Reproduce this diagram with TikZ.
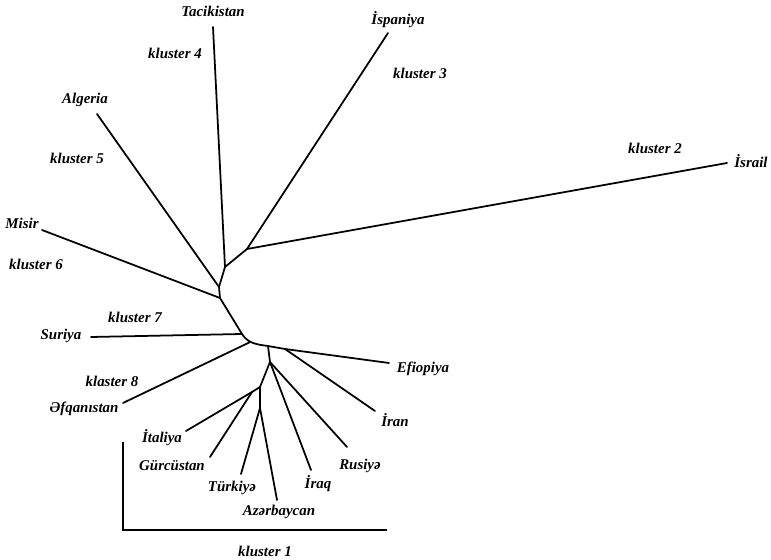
\documentclass[tikz,border=0pt]{standalone}
\usepackage{fontspec}
\setmainfont{Liberation Serif}
\usetikzlibrary{positioning}
\tikzset{
  lbl/.style={font=\fontsize{8.5}{10}\selectfont\bfseries\itshape, inner sep=0pt},
  branch/.style={line width=1pt, line cap=round}
}

\begin{document}
\begin{tikzpicture}[x=0.02cm, y=-0.02cm]
\useasboundingbox (0,0) rectangle (771,560);

% inner nodes of the tree
\coordinate (nSI) at (247,249);
\coordinate (nTI) at (225,267);
\coordinate (nA) at (219,287);
\coordinate (nM) at (220,298);
\coordinate (nS) at (242,334);
\coordinate (nF) at (268,346);
\coordinate (nI) at (285,349);
\coordinate (nG) at (270,362);
\coordinate (nH) at (260,387);
\coordinate (nK) at (252,392);
\coordinate (nT) at (260,408);

% leaf ends
\coordinate (tTac) at (213,27);
\coordinate (tIsp) at (388,33);
\coordinate (tIsr) at (727,163);
\coordinate (tAlg) at (97,114);
\coordinate (tMis) at (42,230);
\coordinate (tSur) at (91,337);
\coordinate (tAfg) at (123,403);
\coordinate (tEfi) at (389,363);
\coordinate (tIran) at (375,411);
\coordinate (tIta) at (186,431);
\coordinate (tGur) at (210,457);
\coordinate (tTur) at (241,474);
\coordinate (tAze) at (277,500);
\coordinate (tIraq) at (311,470);
\coordinate (tRus) at (347,447);

\draw[branch] (tTac) -- (nTI) -- (nA) -- (nM) -- (nS)
  to[out=-58,in=172] coordinate[pos=.4] (nE) (nF) -- (nI) -- (tEfi);
\draw[branch] (nTI) -- (nSI) -- (tIsp);
\draw[branch] (nSI) -- (tIsr);
\draw[branch] (nA) -- (tAlg);
\draw[branch] (nM) -- (tMis);
\draw[branch] (nS) -- (tSur);
\draw[branch] (nE) -- (tAfg);
\draw[branch] (nI) -- (tIran);
\draw[branch] (nF) -- (nG) -- (nH) -- (nK) -- (tIta);
\draw[branch] (nK) -- (tGur);
\draw[branch] (nH) -- (nT) -- (tTur);
\draw[branch] (nT) -- (tAze);
\draw[branch] (nG) -- (tIraq);
\draw[branch] (nG) -- (tRus);

\foreach \nm/\x/\y/\txt in {lTac/213/11/Tacikistan, lIsp/398/20/İspaniya,
    lIsr/751/161/İsrail, lAlg/85/100/Algeria, lMis/22/223/Misir,
    lSur/61/336/Suriya, lAfg/84/409/Əfqanıstan, lEfi/423/369/Efiopiya,
    lIran/395/420/İran, lIta/162/438/İtaliya, lGur/172/466/Gürcüstan,
    lTur/232/488/Türkiyə, lIraq/318/484/İraq, lRus/360/466/Rusiyə,
    lAze/279/512/Azərbaycan} {
  \node[lbl] (\nm) at (\x,\y) {\txt};
}

\foreach \nm/\x/\y/\txt in {k4/175/53/kluster 4, k3/420/73/kluster 3,
    k5/77/158/kluster 5, k2/655/148/kluster 2, k6/36/264/kluster 6,
    k7/135/317/kluster 7, k8/112/381/klaster 8, k1/265/551/kluster 1} {
  \node[lbl] (\nm) at (\x,\y) {\txt};
}

% bracket under the first cluster
\coordinate (bTop) at (123,442);
\coordinate (bEnd) at (387,530);
\draw[line width=1pt] (bTop) |- (bEnd);
\end{tikzpicture}
\end{document}
